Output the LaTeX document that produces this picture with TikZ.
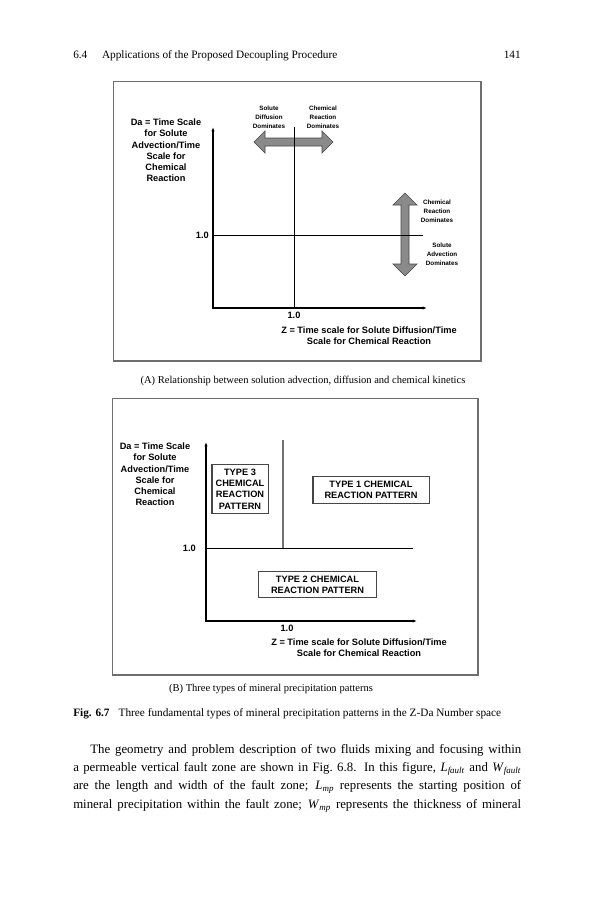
\documentclass[tikz,border=0pt]{standalone}
\usepackage{fontspec}
\setmainfont{Liberation Serif}
\setsansfont{Liberation Sans}
\usetikzlibrary{positioning}
\usetikzlibrary{arrows.meta}
\definecolor{arrowgray}{RGB}{138,138,138}
\definecolor{edgegray}{RGB}{70,70,70}
\definecolor{framegray}{RGB}{110,110,110}

\begin{document}
\begin{tikzpicture}[x=0.78pt, y=-0.78pt,
    panel/.style={draw=framegray, line width=0.6pt},
    shadow/.style={draw=framegray, line width=1.3pt},
    axis/.style={line width=0.8pt, {Latex[length=3.5pt,width=2.6pt]}-{Latex[length=3.5pt,width=2.6pt]}},
    unity/.style={line width=0.6pt},
    bigarrow/.style={fill=arrowgray, draw=edgegray, line width=0.5pt, line join=miter},
    axlabel/.style={inner sep=0pt, align=center, font=\sffamily\bfseries\fontsize{7.2}{8.6}\selectfont},
    tinylabel/.style={inner sep=0pt, align=center, font=\sffamily\bfseries\fontsize{4.9}{6.8}\selectfont},
    typebox/.style={draw=edgegray, line width=0.8pt, inner sep=2pt, align=center, font=\sffamily\bfseries\fontsize{7.2}{8.8}\selectfont},
    pagetext/.style={inner sep=0pt, font=\fontsize{8.8}{11}\selectfont},
    captext/.style={inner sep=0pt, font=\fontsize{8.2}{10}\selectfont}]

    \fill[white] (0,0) rectangle (593,900);
    \useasboundingbox (0,0) rectangle (593,900);

    % running head
    \node[pagetext, anchor=base west] (runhead) at (73,58) {6.4\hspace{1.3em}Applications of the Proposed Decoupling Procedure};
    \node[pagetext, anchor=base east] (pageno) at (521,58) {141};

    % panel A
    \draw[panel] (113,81) rectangle (481,361);
    \draw[shadow] (481,82) -- (481,361) -- (114,361);
    \coordinate (daA) at (213,127);
    \coordinate (zA) at (427,308);
    \coordinate (oneYA) at (213,235);
    \coordinate (endYA) at (423,235);
    \coordinate (oneZA) at (294,308);
    \coordinate (topZA) at (294,127);
    \draw[bigarrow] (254,142) -- (265,131) -- (265,138) -- (322,138) -- (322,131) -- (333,142)
        -- (322,153) -- (322,146) -- (265,146) -- (265,153) -- cycle;
    \draw[bigarrow] (405,193) -- (417,205) -- (409,205) -- (409,264) -- (417,264) -- (405,276)
        -- (393,264) -- (401,264) -- (401,205) -- (393,205) -- cycle;
    \draw[axis] (daA) |- (zA);
    \draw[unity] (oneYA) -- (endYA);
    \draw[unity] (oneZA) -- (topZA);
    \node[axlabel, anchor=north] (daLabelA) at (166,119) {Da = Time Scale\\for Solute\\Advection/Time\\Scale for\\Chemical\\Reaction};
    \node[axlabel, anchor=east] (oneLeftA) at (209,235) {1.0};
    \node[axlabel, anchor=north] (oneBelowA) at (294,312) {1.0};
    \node[axlabel, anchor=north] (zLabelA) at (369,327) {Z = Time scale for Solute Diffusion/Time\\Scale for Chemical Reaction};
    \node[tinylabel, anchor=north] (diffA) at (269,106) {Solute\\Diffusion\\Dominates};
    \node[tinylabel, anchor=north] (reactA) at (323,106) {Chemical\\Reaction\\Dominates};
    \node[tinylabel, anchor=north] (reactUpA) at (437,200) {Chemical\\Reaction\\Dominates};
    \node[tinylabel, anchor=north] (advA) at (442,243) {Solute\\Advection\\Dominates};
    \node[captext, anchor=base] (capA) at (303,383) {(A) Relationship between solution advection, diffusion and chemical kinetics};

    % panel B
    \draw[panel] (112,398) rectangle (478,675);
    \draw[shadow] (478,399) -- (478,675) -- (113,675);
    \coordinate (daB) at (206,442);
    \coordinate (zB) at (417,621);
    \coordinate (oneYB) at (206,548);
    \coordinate (endYB) at (413,548);
    \coordinate (oneZB) at (283,548);
    \coordinate (topZB) at (283,440);
    \draw[axis] (daB) |- (zB);
    \draw[unity] (oneYB) -- (endYB);
    \draw[unity, draw=black!55, line width=0.9pt] (oneZB) -- (topZB);
    \node[axlabel, anchor=north] (daLabelB) at (155,443) {Da = Time Scale\\for Solute\\Advection/Time\\Scale for\\Chemical\\Reaction};
    \node[axlabel, anchor=east] (oneLeftB) at (196,548) {1.0};
    \node[axlabel, anchor=north] (oneBelowB) at (287,625) {1.0};
    \node[axlabel, anchor=north] (zLabelB) at (359,639) {Z = Time scale for Solute Diffusion/Time\\Scale for Chemical Reaction};
    \node[typebox, minimum width=43.7pt, minimum height=38.2pt] (type3) at (240,489) {TYPE 3\\CHEMICAL\\REACTION\\PATTERN};
    \node[typebox, minimum width=90.5pt, minimum height=21.8pt] (type1) at (371,490) {TYPE 1 CHEMICAL\\REACTION PATTERN};
    \node[typebox, minimum width=91.3pt, minimum height=21pt] (type2) at (317.5,584.5) {TYPE 2 CHEMICAL\\REACTION PATTERN};
    \node[captext, anchor=base] (capB) at (271,691) {(B) Three types of mineral precipitation patterns};

    % figure caption
    \node[pagetext, anchor=base west] (figcap) at (73,716) {\textbf{Fig. 6.7}\hspace{0.8em}Three fundamental types of mineral precipitation patterns in the Z-Da Number space};

    % body text
    \node[anchor=north west, inner sep=0pt, text width=349.4pt, align=justify, font=\fontsize{10}{14.3}\selectfont] (body) at (73,744)
        {\hspace*{13.3pt}The geometry and problem description of two fluids mixing and focusing within\linebreak
        a permeable vertical fault zone are shown in Fig.~6.8. In this figure, \textit{L}\textsubscript{\textit{fault}} and \textit{W}\textsubscript{\textit{fault}}\linebreak
        are the length and width of the fault zone; \textit{L}\textsubscript{\textit{mp}} represents the starting position of\linebreak
        mineral precipitation within the fault zone; \textit{W}\textsubscript{\textit{mp}} represents the thickness of mineral\linebreak};
\end{tikzpicture}
\end{document}
